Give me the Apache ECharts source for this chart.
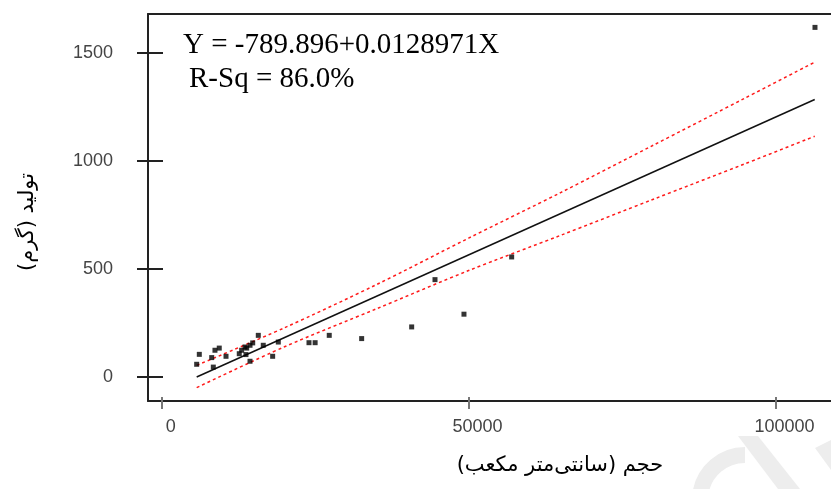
<!DOCTYPE html>
<html>
<head>
<meta charset="utf-8">
<style>
  html, body { margin: 0; padding: 0; background: #fff; }
  #chart { width: 831px; height: 489px; }
</style>
<script src="https://cdn.jsdelivr.net/npm/echarts@6/dist/echarts.min.js"></script>
</head>
<body>
<div id="chart"></div>
<script>
// Observations: volume (cm^3) vs production (g)
const volume = [5700, 6130, 8150, 8410, 8680, 9380, 10480, 12640, 13030, 13730, 13570, 13850, 14390, 14390, 14830, 15740, 16550, 18080, 19000, 24000, 25000, 27300, 32580, 40730, 44530, 49250, 57020, 106440];
const production = [59, 105, 90, 46, 124, 134, 96, 108, 124, 104, 139, 134, 73, 147, 158, 193, 147, 96, 162, 159, 159, 193, 178, 232, 451, 291, 556, 1619];

// Fitted regression line
const fitX = [5700, 106400];
const fitY = [0, 1285];

// Confidence band
const bandX = [5700, 20000, 35000, 50000, 65000, 80000, 95000, 106400];
const upperBand = [54, 228, 428, 643, 854, 1072, 1291, 1458];
const lowerBand = [-49, 140, 316, 493, 656, 822, 987, 1115];

// Tick values
const xTicks = [0, 50000, 100000];
const yTicks = [0, 500, 1000, 1500];

const xTitle = 'حجم (سانتی\u200cمتر مکعب)';
const yTitle = 'تولید (گرم)';
const eqLine1 = 'Y = -789.896+0.0128971X';
const eqLine2 = 'R-Sq = 86.0%';

const pair = (xs, ys) => xs.map((x, i) => [x, ys[i]]);

const X_MIN = -2230, X_MAX = 109050;
const Y_MIN = -111, Y_MAX = 1681;

const chart = echarts.init(document.getElementById('chart'), null, { renderer: 'canvas' });

const labelFont = { fontFamily: 'Liberation Sans', fontSize: 18, color: '#444' };
const plain = v => String(v);

chart.setOption({
  animation: false,
  backgroundColor: '#fff',
  grid: { left: 148, top: 14, right: 0, bottom: 88, containLabel: false },
  xAxis: [
    {
      type: 'value', position: 'bottom', min: X_MIN, max: X_MAX,
      axisLine: { show: true, onZero: false, lineStyle: { color: '#222', width: 2 } },
      axisTick: { show: true, inside: false, length: 8, customValues: xTicks, lineStyle: { color: '#777', width: 2 } },
      axisLabel: { show: true, customValues: xTicks, formatter: plain, margin: 17, padding: [0, 0, 0, 18], ...labelFont },
      splitLine: { show: false }
    },
    {
      type: 'value', position: 'bottom', min: X_MIN, max: X_MAX,
      axisLine: { show: false, onZero: false },
      axisTick: { show: true, inside: true, length: 4, customValues: xTicks, lineStyle: { color: '#777', width: 2 } },
      axisLabel: { show: false },
      splitLine: { show: false }
    },
    {
      type: 'value', position: 'top', min: X_MIN, max: X_MAX,
      axisLine: { show: true, onZero: false, lineStyle: { color: '#222', width: 2 } },
      axisTick: { show: false },
      axisLabel: { show: false },
      splitLine: { show: false }
    }
  ],
  yAxis: [
    {
      type: 'value', position: 'left', min: Y_MIN, max: Y_MAX,
      axisLine: { show: true, onZero: false, lineStyle: { color: '#222', width: 2 } },
      axisTick: { show: true, inside: false, length: 11, customValues: yTicks, lineStyle: { color: '#222', width: 2 } },
      axisLabel: { show: true, customValues: yTicks, formatter: plain, margin: 35, padding: [0, 0, 6, 0], ...labelFont },
      splitLine: { show: false }
    },
    {
      type: 'value', position: 'left', min: Y_MIN, max: Y_MAX,
      axisLine: { show: false, onZero: false },
      axisTick: { show: true, inside: true, length: 15, customValues: yTicks, lineStyle: { color: '#222', width: 2 } },
      axisLabel: { show: false },
      splitLine: { show: false }
    }
  ],
  series: [
    {
      type: 'line', data: pair(bandX, upperBand), showSymbol: false, smooth: 0.3,
      lineStyle: { color: '#ff1a1a', width: 1.5, type: [3, 3] }, z: 2
    },
    {
      type: 'line', data: pair(bandX, lowerBand), showSymbol: false, smooth: 0.3,
      lineStyle: { color: '#ff1a1a', width: 1.5, type: [3, 3] }, z: 2
    },
    {
      type: 'line', data: pair(fitX, fitY), showSymbol: false,
      lineStyle: { color: '#111', width: 1.5 }, z: 3
    },
    {
      type: 'scatter', data: pair(volume, production), symbol: 'rect', symbolSize: 5,
      itemStyle: { color: '#000' }, z: 4
    }
  ],
  graphic: [
    // faint watermark shapes in the lower right
    {
      type: 'arc', z: -10, silent: true,
      shape: { cx: 745, cy: 500, r: 45, startAngle: Math.PI * 1.05, endAngle: Math.PI * 1.5 },
      style: { stroke: '#ededed', lineWidth: 16, fill: null }
    },
    {
      type: 'polygon', z: -10, silent: true,
      shape: { points: [[738, 436], [758, 436], [800, 489], [778, 489]] },
      style: { fill: '#ededed' }
    },
    {
      type: 'polygon', z: -10, silent: true,
      shape: { points: [[815, 448], [831, 440], [831, 470]] },
      style: { fill: '#ededed' }
    },
    {
      type: 'text', x: 183, y: 45,
      style: { text: eqLine1, font: '29px "Liberation Serif"', fill: '#000', align: 'left', verticalAlign: 'middle' }
    },
    {
      type: 'text', x: 189, y: 79,
      style: { text: eqLine2, font: '29px "Liberation Serif"', fill: '#000', align: 'left', verticalAlign: 'middle' }
    },
    {
      type: 'text', x: 560, y: 466,
      style: { text: xTitle, font: '21px "DejaVu Sans"', fill: '#000', align: 'center', verticalAlign: 'middle' }
    },
    {
      type: 'text', x: 28, y: 222, rotation: Math.PI / 2,
      style: { text: yTitle, font: '21px "DejaVu Sans"', fill: '#000', align: 'center', verticalAlign: 'middle' }
    }
  ]
});
</script>
</body>
</html>
